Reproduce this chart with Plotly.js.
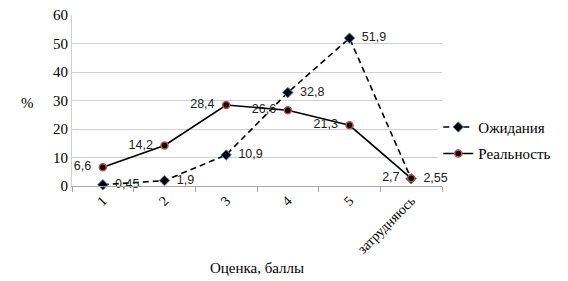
<!DOCTYPE html>
<html><head><meta charset="utf-8">
<script src="https://cdn.plot.ly/plotly-3.0.1.min.js"></script>
<style>html,body{margin:0;padding:0;background:#fff}#chart{width:568px;height:281px}</style>
</head><body><div id="chart"></div>
<script>
const categories = ["1", "2", "3", "4", "5", "затрудняюсь"];
const expectations = [0.45, 1.9, 10.9, 32.8, 51.9, 2.55];
const reality = [6.6, 14.2, 28.4, 26.6, 21.3, 2.7];
const expLabels = ["0,45", "1,9", "10,9", "32,8", "51,9", "2,55"];
const realLabels = ["6,6", "14,2", "28,4", "26,6", "21,3", "2,7"];
const yTicks = [0, 10, 20, 30, 40, 50, 60];

const serif = "Liberation Serif, Times New Roman, serif";
const sans = "Liberation Sans, Arial, sans-serif";

const traces = [
  {
    x: categories, y: expectations, name: "Ожидания", type: "scatter", legendgroup: "a",
    mode: "lines+markers+text", text: expLabels.map(t => "\u2002" + t), textposition: "middle right",
    textfont: {family: sans, size: 12.5, color: "#222"},
    line: {color: "#000", width: 1.6, dash: "6px,4px"},
    marker: {symbol: "diamond", size: 8, color: "#000", line: {color: "#4f81bd", width: 1}},
    cliponaxis: false
  },
  {
    x: categories, y: reality, name: "Реальность", type: "scatter", legendgroup: "b",
    mode: "lines+markers+text", text: realLabels.map(t => t + "\u2002"), textposition: "middle left",
    textfont: {family: sans, size: 12.5, color: "#222"},
    line: {color: "#000", width: 1.6},
    marker: {symbol: "circle", size: 7, color: "#000", line: {color: "#c0504d", width: 1.5}},
    cliponaxis: false
  }
];

const layout = {
  width: 568, height: 281,
  margin: {l: 72, r: 120, t: 15, b: 95},
  paper_bgcolor: "#fff", plot_bgcolor: "#fff",
  showlegend: true,
  legend: {x: 0.99, xanchor: "left", y: 0.44, yanchor: "top", traceorder: "grouped",
    font: {family: serif, size: 15, color: "#000"}, tracegroupgap: 4},
  xaxis: {
    type: "category", tickangle: -45,
    tickfont: {family: serif, size: 14, color: "#000"},
    showgrid: false, showline: true, linecolor: "#a6a6a6", linewidth: 1,
    ticks: "outside", ticklen: 5, tickcolor: "#a6a6a6", tickson: "boundaries",
    range: [-0.5, 5.5], zeroline: false,
    title: {text: "Оценка, баллы", font: {family: serif, size: 15, color: "#000"}, standoff: 6}
  },
  yaxis: {
    range: [0, 60], tickvals: yTicks, ticktext: yTicks.map(String),
    tickfont: {family: serif, size: 15, color: "#000"},
    showgrid: true, gridcolor: "#d0d0d0", gridwidth: 1,
    showline: true, linecolor: "#d0d0d0", zeroline: false, ticks: ""
  },
  annotations: [{
    text: "%", xref: "paper", yref: "y", x: 0, y: 30, xanchor: "right", yanchor: "middle",
    xshift: -36, yshift: -2, showarrow: false, font: {family: serif, size: 15, color: "#000"}
  }]
};
Plotly.newPlot("chart", traces, layout, {displayModeBar: false, staticPlot: true});
</script></body></html>
